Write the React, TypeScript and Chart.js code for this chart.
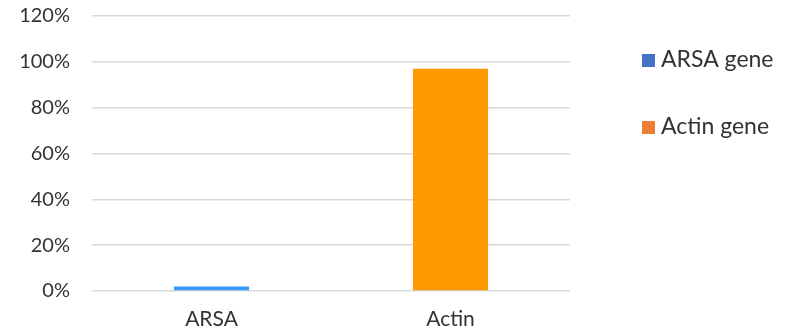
import React, { useEffect, useRef } from "react";
import { Chart, registerables } from "chart.js";

Chart.register(...registerables);

const categories = ["ARSA", "Actin"];
const seriesNames = ["ARSA gene", "Actin gene"];
const arsaValues = [0.02, null];
const actinValues = [null, 0.97];
const barColors = ["#3399FF", "#FF9900"];
const legendColors = ["#4472C4", "#ED7D31"];
const yTicks = [0, 0.2, 0.4, 0.6, 0.8, 1.0, 1.2];

const FONT = "Lato, 'Open Sans', sans-serif";
const TEXT = "#333333";

// Legend drawn beside the plot, one row per series.
const sideLegend = {
  id: "sideLegend",
  afterDraw(chart: any) {
    const ctx = chart.ctx;
    ctx.save();
    chart.data.datasets.forEach((ds: any, i: number) => {
      const cy = 60 + i * 67;
      ctx.fillStyle = legendColors[i];
      ctx.fillRect(642, cy - 6, 13, 13);
      ctx.fillStyle = TEXT;
      ctx.font = `23px ${FONT}`;
      ctx.textBaseline = "middle";
      ctx.textAlign = "left";
      ctx.fillText(ds.label, 661, cy);
    });
    ctx.restore();
  },
};

export default function App() {
  const ref = useRef<HTMLCanvasElement | null>(null);

  useEffect(() => {
    document.body.style.margin = "0";
    const chart = new Chart(ref.current!, {
      type: "bar",
      data: {
        labels: categories,
        datasets: [
          { label: seriesNames[0], data: arsaValues, backgroundColor: barColors[0] },
          { label: seriesNames[1], data: actinValues, backgroundColor: barColors[1] },
        ],
      },
      options: {
        responsive: false,
        animation: false,
        layout: { padding: { top: 0, right: 229, left: 0, bottom: 0 } },
        datasets: {
          bar: { grouped: false, categoryPercentage: 1, barPercentage: 0.314 },
        } as any,
        plugins: {
          legend: { display: false },
          tooltip: { enabled: false },
        },
        scales: {
          x: {
            grid: { display: false, drawTicks: false },
            border: { display: false },
            ticks: {
              color: TEXT,
              font: { family: FONT, size: 21 },
              padding: 16,
            },
            afterFit: (s: any) => {
              s.height = 41;
            },
          },
          y: {
            min: 0,
            max: 1.2,
            afterBuildTicks: (s: any) => {
              s.ticks = yTicks.map((v) => ({ value: v }));
            },
            grid: { color: "#D9D9D9", lineWidth: 1.5, drawTicks: false },
            border: { display: false },
            ticks: {
              color: TEXT,
              font: { family: FONT, size: 20 },
              padding: 22,
              callback: (v: any) => `${Math.round(Number(v) * 100)}%`,
            },
            afterFit: (s: any) => {
              s.width = 92;
              s.paddingTop = 16;
              s.paddingBottom = 0;
            },
          },
        },
      },
      plugins: [sideLegend],
    });
    return () => chart.destroy();
  }, []);

  return (
    <div style={{ width: 799, height: 332, background: "#fff" }}>
      <canvas ref={ref} width={799} height={332} />
    </div>
  );
}
